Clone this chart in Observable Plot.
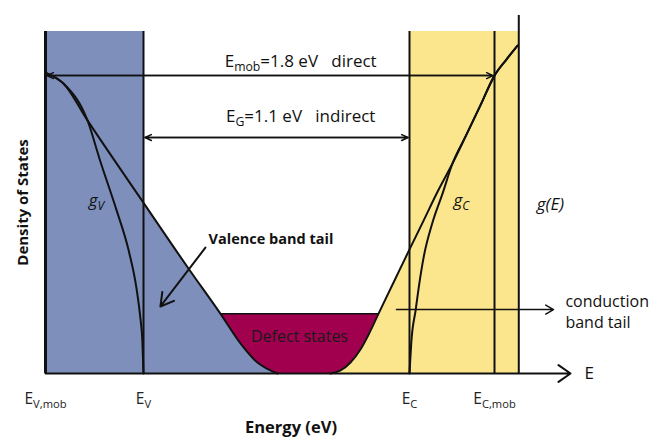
<!DOCTYPE html>
<html>
<head>
<meta charset="utf-8">
<script src="https://cdn.jsdelivr.net/npm/d3@7"></script>
<script src="https://cdn.jsdelivr.net/npm/@observablehq/plot@0.6"></script>
<style>
  body { margin: 0; background: #fff; }
</style>
</head>
<body>
<div id="chart"></div>
<script>
// Band edges (eV) and their labels; "_{...}" marks a subscript
const edgeLabels = ["E_{V,mob}", "E_{V}", "E_{C}", "E_{C,mob}"];
const edgeEnergies = [0, 0.35, 1.45, 1.8];
const dosAxisEnergy = 1.9;          // where the g(E) axis stands

// Gaps between the edges
const gapNames = ["E_{mob}", "E_{G}"];
const gapValues = [1.8, 1.1];
const gapKinds = ["direct", "indirect"];

// Valence band density of states g_V (extended states)
const gvEnergy  = [0.007, 0.064, 0.150, 0.196, 0.254, 0.296, 0.325, 0.339, 0.346, 0.350];
const gvDensity = [0.877, 0.848, 0.740, 0.620, 0.477, 0.363, 0.249, 0.161, 0.094, 0];

// Valence band tail
const vtEnergy  = [0.007, 0.064, 0.150, 0.358, 0.536, 0.668, 0.751, 0.821, 0.858, 0.904];
const vtDensity = [0.877, 0.848, 0.740, 0.491, 0.307, 0.175, 0.088, 0.032, 0.015, 0];

// Conduction band density of states g_C
const gcEnergy  = [1.450, 1.458, 1.475, 1.491, 1.508, 1.545, 1.586, 1.627, 1.685, 1.742, 1.800, 1.849, 1.895];
const gcDensity = [0, 0.096, 0.184, 0.266, 0.339, 0.442, 0.526, 0.614, 0.699, 0.784, 0.871, 0.918, 0.959];

// Conduction band tail
const ctEnergy  = [1.123, 1.165, 1.206, 1.247, 1.281, 1.322, 1.384, 1.446, 1.508, 1.566, 1.627, 1.685, 1.742, 1.800, 1.849, 1.895];
const ctDensity = [0, 0.009, 0.032, 0.070, 0.114, 0.175, 0.266, 0.357, 0.447, 0.532, 0.614, 0.699, 0.784, 0.871, 0.918, 0.959];

// Defect states in the gap
const defectRange = [0.668, 1.322];
const defectDensity = 0.175;

const BLUE = "#7e8fbb", YELLOW = "#fce68d", MAGENTA = "#a1004f", INK = "#111";
const [EVmob, EV, EC, ECmob] = edgeEnergies;
const pts = (xs, ys) => xs.map((x, i) => ({x, y: ys[i]}));

const gV = pts(gvEnergy, gvDensity);
const vTail = pts(vtEnergy, vtDensity);
const gC = pts(gcEnergy, gcDensity);
const cTail = pts(ctEnergy, ctDensity);

const gapStarts = [EVmob, EV];
const gapLevels = [0.871, 0.69];
const gapLabelLevels = [0.912, 0.751];
const gaps = gapValues.map((v, i) => ({
  from: gapStarts[i], to: gapStarts[i] + v, level: gapLevels[i], labelLevel: gapLabelLevels[i],
  text: `${gapNames[i]}=${v} eV\u00a0\u00a0\u00a0${gapKinds[i]}`
}));

const curve = "monotone-x";

const chart = Plot.plot({
  width: 649,
  height: 439,
  margin: 0,
  x: {type: "linear", domain: edgeEnergies, range: [45, 143, 409, 494], axis: null},
  y: {domain: [0, 1], range: [373, 31], axis: null},
  style: {fontFamily: "'Open Sans', Lato, sans-serif", fontSize: "16px", color: INK, background: "#fff"},
  marks: [
    // defect states sit below both tails
    Plot.rect([defectRange], {x1: d => d[0], x2: d => d[1], y1: 0, y2: defectDensity, fill: MAGENTA}),
    // band regions
    Plot.rect([[EVmob, EV]], {x1: d => d[0], x2: d => d[1], y1: 0, y2: 1, fill: BLUE}),
    Plot.rect([[EC, dosAxisEnergy]], {x1: d => d[0], x2: d => d[1], y1: 0, y2: 1, fill: YELLOW}),
    Plot.areaY(vTail, {x: "x", y: "y", fill: BLUE, curve}),
    Plot.areaY(cTail, {x: "x", y: "y", fill: YELLOW, curve}),
    Plot.ruleY([defectDensity], {x1: defectRange[0], x2: defectRange[1], stroke: INK, strokeWidth: 1.5}),
    // density-of-states curves
    Plot.line(vTail, {x: "x", y: "y", stroke: INK, strokeWidth: 2, curve}),
    Plot.line(gV, {x: "x", y: "y", stroke: INK, strokeWidth: 2, curve}),
    Plot.line(cTail, {x: "x", y: "y", stroke: INK, strokeWidth: 2, curve}),
    Plot.line(gC, {x: "x", y: "y", stroke: INK, strokeWidth: 2, curve}),
    // band edges and the g(E) axis
    Plot.ruleX(edgeEnergies.slice(1), {y1: 0, y2: 1, stroke: INK, strokeWidth: 2}),
    Plot.ruleX([EVmob], {y1: 0, y2: 1, stroke: INK, strokeWidth: 3}),
    Plot.ruleX([dosAxisEnergy], {y1: 0, y2: 1.047, stroke: INK, strokeWidth: 2}),
    // energy axis
    Plot.arrow([0], {x1: EVmob, y1: 0, x2: 2.113, y2: 0, stroke: INK, strokeWidth: 2, headLength: 11, headAngle: 70}),
    Plot.text(["E"], {x: 2.19, y: 0, fontSize: 17, fill: INK}),
    Plot.text(edgeEnergies, {x: d => d, y: 0, dy: 26, text: (d, i) => edgeLabels[i], fontSize: 15.5, fill: "#222"}),
    // gap arrows (double headed)
    Plot.arrow(gaps, {x1: "from", x2: "to", y1: "level", y2: "level", stroke: INK, strokeWidth: 1.5, headLength: 7, headAngle: 50, inset: 1.5}),
    Plot.arrow(gaps, {x1: "to", x2: "from", y1: "level", y2: "level", stroke: INK, strokeWidth: 1.5, headLength: 7, headAngle: 50, inset: 1.5}),
    Plot.text(gaps, {x: 1.0, y: "labelLevel", text: "text", fontSize: 17, fill: INK}),
    // curve labels
    Plot.text(["g_{V}"], {x: 0.182, y: 0.506, fontSize: 17, fontStyle: "italic", fill: INK}),
    Plot.text(["g_{C}"], {x: 1.664, y: 0.506, fontSize: 17, fontStyle: "italic", fill: INK}),
    Plot.text(["g(E)"], {x: 2.03, y: 0.494, fontSize: 17, fontStyle: "italic", fill: INK}),
    // annotations
    Plot.text(["Valence band tail"], {x: 0.619, y: 0.392, textAnchor: "start", fontSize: 14.5, fontWeight: "bold", fill: INK}),
    Plot.arrow([0], {x1: 0.606, y1: 0.368, x2: 0.42, y2: 0.196, stroke: INK, strokeWidth: 2, headLength: 11, headAngle: 60}),
    Plot.text(["Defect states"], {x: (defectRange[0] + defectRange[1]) / 2, y: 0.108, fontSize: 16, fill: "#1a1a1a"}),
    Plot.arrow([0], {x1: 1.396, y1: 0.187, x2: 2.043, y2: 0.187, stroke: INK, strokeWidth: 1.5, headLength: 9, headAngle: 60}),
    Plot.text(["conduction\nband tail"], {x: 2.092, y: 0.184, textAnchor: "start", lineHeight: 1.3, fontSize: 16, fill: INK}),
    // axis titles
    Plot.text(["Density of States"], {frameAnchor: "left", dx: 23, y: 0.5, rotate: -90, textAnchor: "middle", fontSize: 15, fontWeight: "bold", fill: INK}),
    Plot.text(["Energy (eV)"], {x: 0.96, frameAnchor: "bottom", lineAnchor: "middle", dy: -12, fontSize: 16.5, fontWeight: "bold", fill: INK})
  ]
});

// Turn "_{...}" into subscript tspans
function renderSubscripts(root) {
  root.querySelectorAll("text").forEach(t => {
    if (t.children.length || !t.textContent.includes("_{")) return;
    const parts = t.textContent.split(/_\{([^}]*)\}/);
    t.textContent = "";
    let shifted = false;
    parts.forEach((p, i) => {
      if (!p) return;
      const ts = document.createElementNS("http://www.w3.org/2000/svg", "tspan");
      ts.textContent = p;
      if (i % 2) {
        ts.setAttribute("font-size", "0.72em");
        ts.setAttribute("dy", "4");
        shifted = true;
      } else if (shifted) {
        ts.setAttribute("dy", "-4");
        shifted = false;
      }
      t.appendChild(ts);
    });
  });
}
renderSubscripts(chart);

document.getElementById("chart").append(chart);
</script>
</body>
</html>
